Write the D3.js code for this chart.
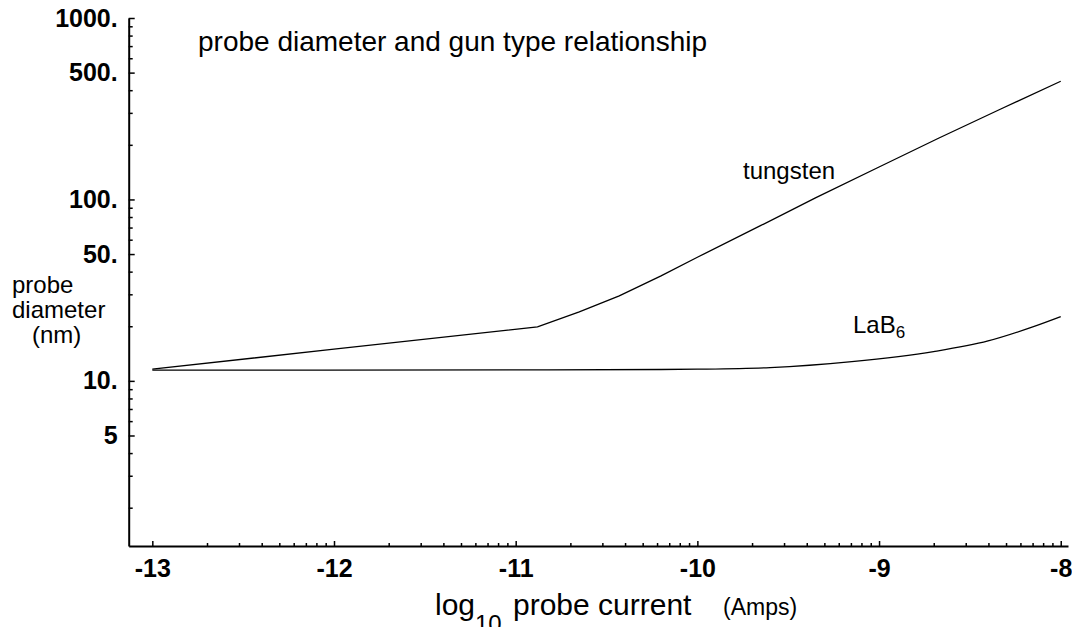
<!DOCTYPE html>
<html>
<head>
<meta charset="utf-8">
<script src="https://cdn.jsdelivr.net/npm/d3@7"></script>
<style>
  body { margin: 0; background: #fff; }
  svg { display: block; }
  text { font-family: "Liberation Sans", Arial, Helvetica, sans-serif; fill: #000; }
</style>
</head>
<body>
<svg></svg>
<script>
// tick values + labels
const xMajor = [-13, -12, -11, -10, -9, -8]
const xLabels = ["-13", "-12", "-11", "-10", "-9", "-8"]
const decadeSteps = [2, 3, 4, 5, 6, 7, 8, 9]

const yMajor = [5, 10, 50, 100, 500, 1000]
const yLabels = ["5", "10.", "50.", "100.", "500.", "1000."]
const yMinor = [2, 3, 4, 6, 7, 8, 9, 20, 30, 40, 60, 70, 80, 90, 200, 300, 400, 600, 700, 800, 900]

// curves (x = log10 current, d = diameter nm)
const tungstenX = [-13, -12, -10.88, -10.65, -10.43, -10.2, -10, -9.65, -9.35, -9, -8.67, -8.33, -8]
const tungstenD = [11.6, 14.95, 19.85, 24.0, 29.4, 37.9, 48.0, 71.9, 102, 151, 218, 315, 448]

const lab6X = [-13, -11, -10.2, -10, -9.6, -9.15, -8.7, -8.4, -8.15, -8]
const lab6D = [11.45, 11.5, 11.55, 11.6, 11.84, 12.77, 14.5, 16.6, 19.9, 22.6]

let width = 1072
let height = 627

let svg = d3.select("svg")
    .attr("width", width)
    .attr("height", height)

let xScale = d3.scaleLinear()
    .domain([-13.13, -7.96])
    .range([128.7, 1068])

let yScale = d3.scaleLog()
    .domain([1.23, 1000])
    .range([546, 18])

let xMinor = []
xMajor.forEach(v => {
    decadeSteps.forEach(k => {
        let t = v + Math.log10(k)
        if (t < xScale.domain()[1]) xMinor.push(t)
    })
})

// minor ticks first
svg.append("g")
    .attr("transform", "translate(0," + yScale.range()[0] + ")")
    .call(d3.axisBottom(xScale).tickValues(xMinor).tickSize(-3).tickFormat(""))
    .call(g => g.select(".domain").remove())

svg.append("g")
    .attr("transform", "translate(" + xScale.range()[0] + ",0)")
    .call(d3.axisLeft(yScale).tickValues(yMinor).tickSize(-4).tickFormat(""))
    .call(g => g.select(".domain").remove())

// major ticks + labels
let xAxis = svg.append("g")
    .attr("transform", "translate(0," + yScale.range()[0] + ")")
    .call(d3.axisBottom(xScale)
        .tickValues(xMajor)
        .tickSize(-5)
        .tickSizeOuter(0)
        .tickPadding(13)
        .tickFormat((d, i) => xLabels[i]))

let yAxis = svg.append("g")
    .attr("transform", "translate(" + xScale.range()[0] + ",0)")
    .call(d3.axisLeft(yScale)
        .tickValues(yMajor)
        .tickSize(-6)
        .tickSizeOuter(0)
        .tickPadding(11)
        .tickFormat((d, i) => yLabels[i]))

svg.selectAll(".tick line").attr("stroke", "#000").attr("stroke-width", 1.5)
svg.selectAll(".domain").attr("stroke", "#000").attr("stroke-width", 2)

xAxis.selectAll("text")
    .style("font-size", "25px")
    .style("font-weight", "bold")
yAxis.selectAll("text")
    .style("font-size", "25px")
    .style("font-weight", "bold")

// curves
let tungsten = tungstenX.map((x, i) => ({x: x, d: tungstenD[i]}))
let lab6 = lab6X.map((x, i) => ({x: x, d: lab6D[i]}))

svg.append("path")
    .datum(tungsten)
    .attr("fill", "none")
    .attr("stroke", "#000")
    .attr("stroke-width", 1.3)
    .attr("d", d3.line().x(p => xScale(p.x)).y(p => yScale(p.d)))

svg.append("path")
    .datum(lab6)
    .attr("fill", "none")
    .attr("stroke", "#000")
    .attr("stroke-width", 1.3)
    .attr("d", d3.line().curve(d3.curveMonotoneX).x(p => xScale(p.x)).y(p => yScale(p.d)))

// texts
svg.append("text")
    .attr("x", 198).attr("y", 51)
    .style("font-size", "28px")
    .text("probe diameter and gun type relationship")

svg.append("text")
    .attr("x", 743).attr("y", 179)
    .style("font-size", "24px")
    .text("tungsten")

let lab = svg.append("text")
    .attr("x", 853).attr("y", 333)
    .style("font-size", "24px")
lab.append("tspan").text("LaB")
lab.append("tspan").attr("dy", 5).style("font-size", "17px").text("6")

svg.append("text").attr("x", 12).attr("y", 293).style("font-size", "24px").text("probe")
svg.append("text").attr("x", 12).attr("y", 318).style("font-size", "24px").text("diameter")
svg.append("text").attr("x", 32).attr("y", 343).style("font-size", "24px").text("(nm)")

svg.append("text").attr("x", 435).attr("y", 615).style("font-size", "30px").text("log")
svg.append("text").attr("x", 475).attr("y", 632).style("font-size", "24px").text("10")
svg.append("text").attr("x", 513).attr("y", 615).style("font-size", "30px").text("probe current")
svg.append("text").attr("x", 723).attr("y", 615).style("font-size", "23px").text("(Amps)")
</script>
</body>
</html>
